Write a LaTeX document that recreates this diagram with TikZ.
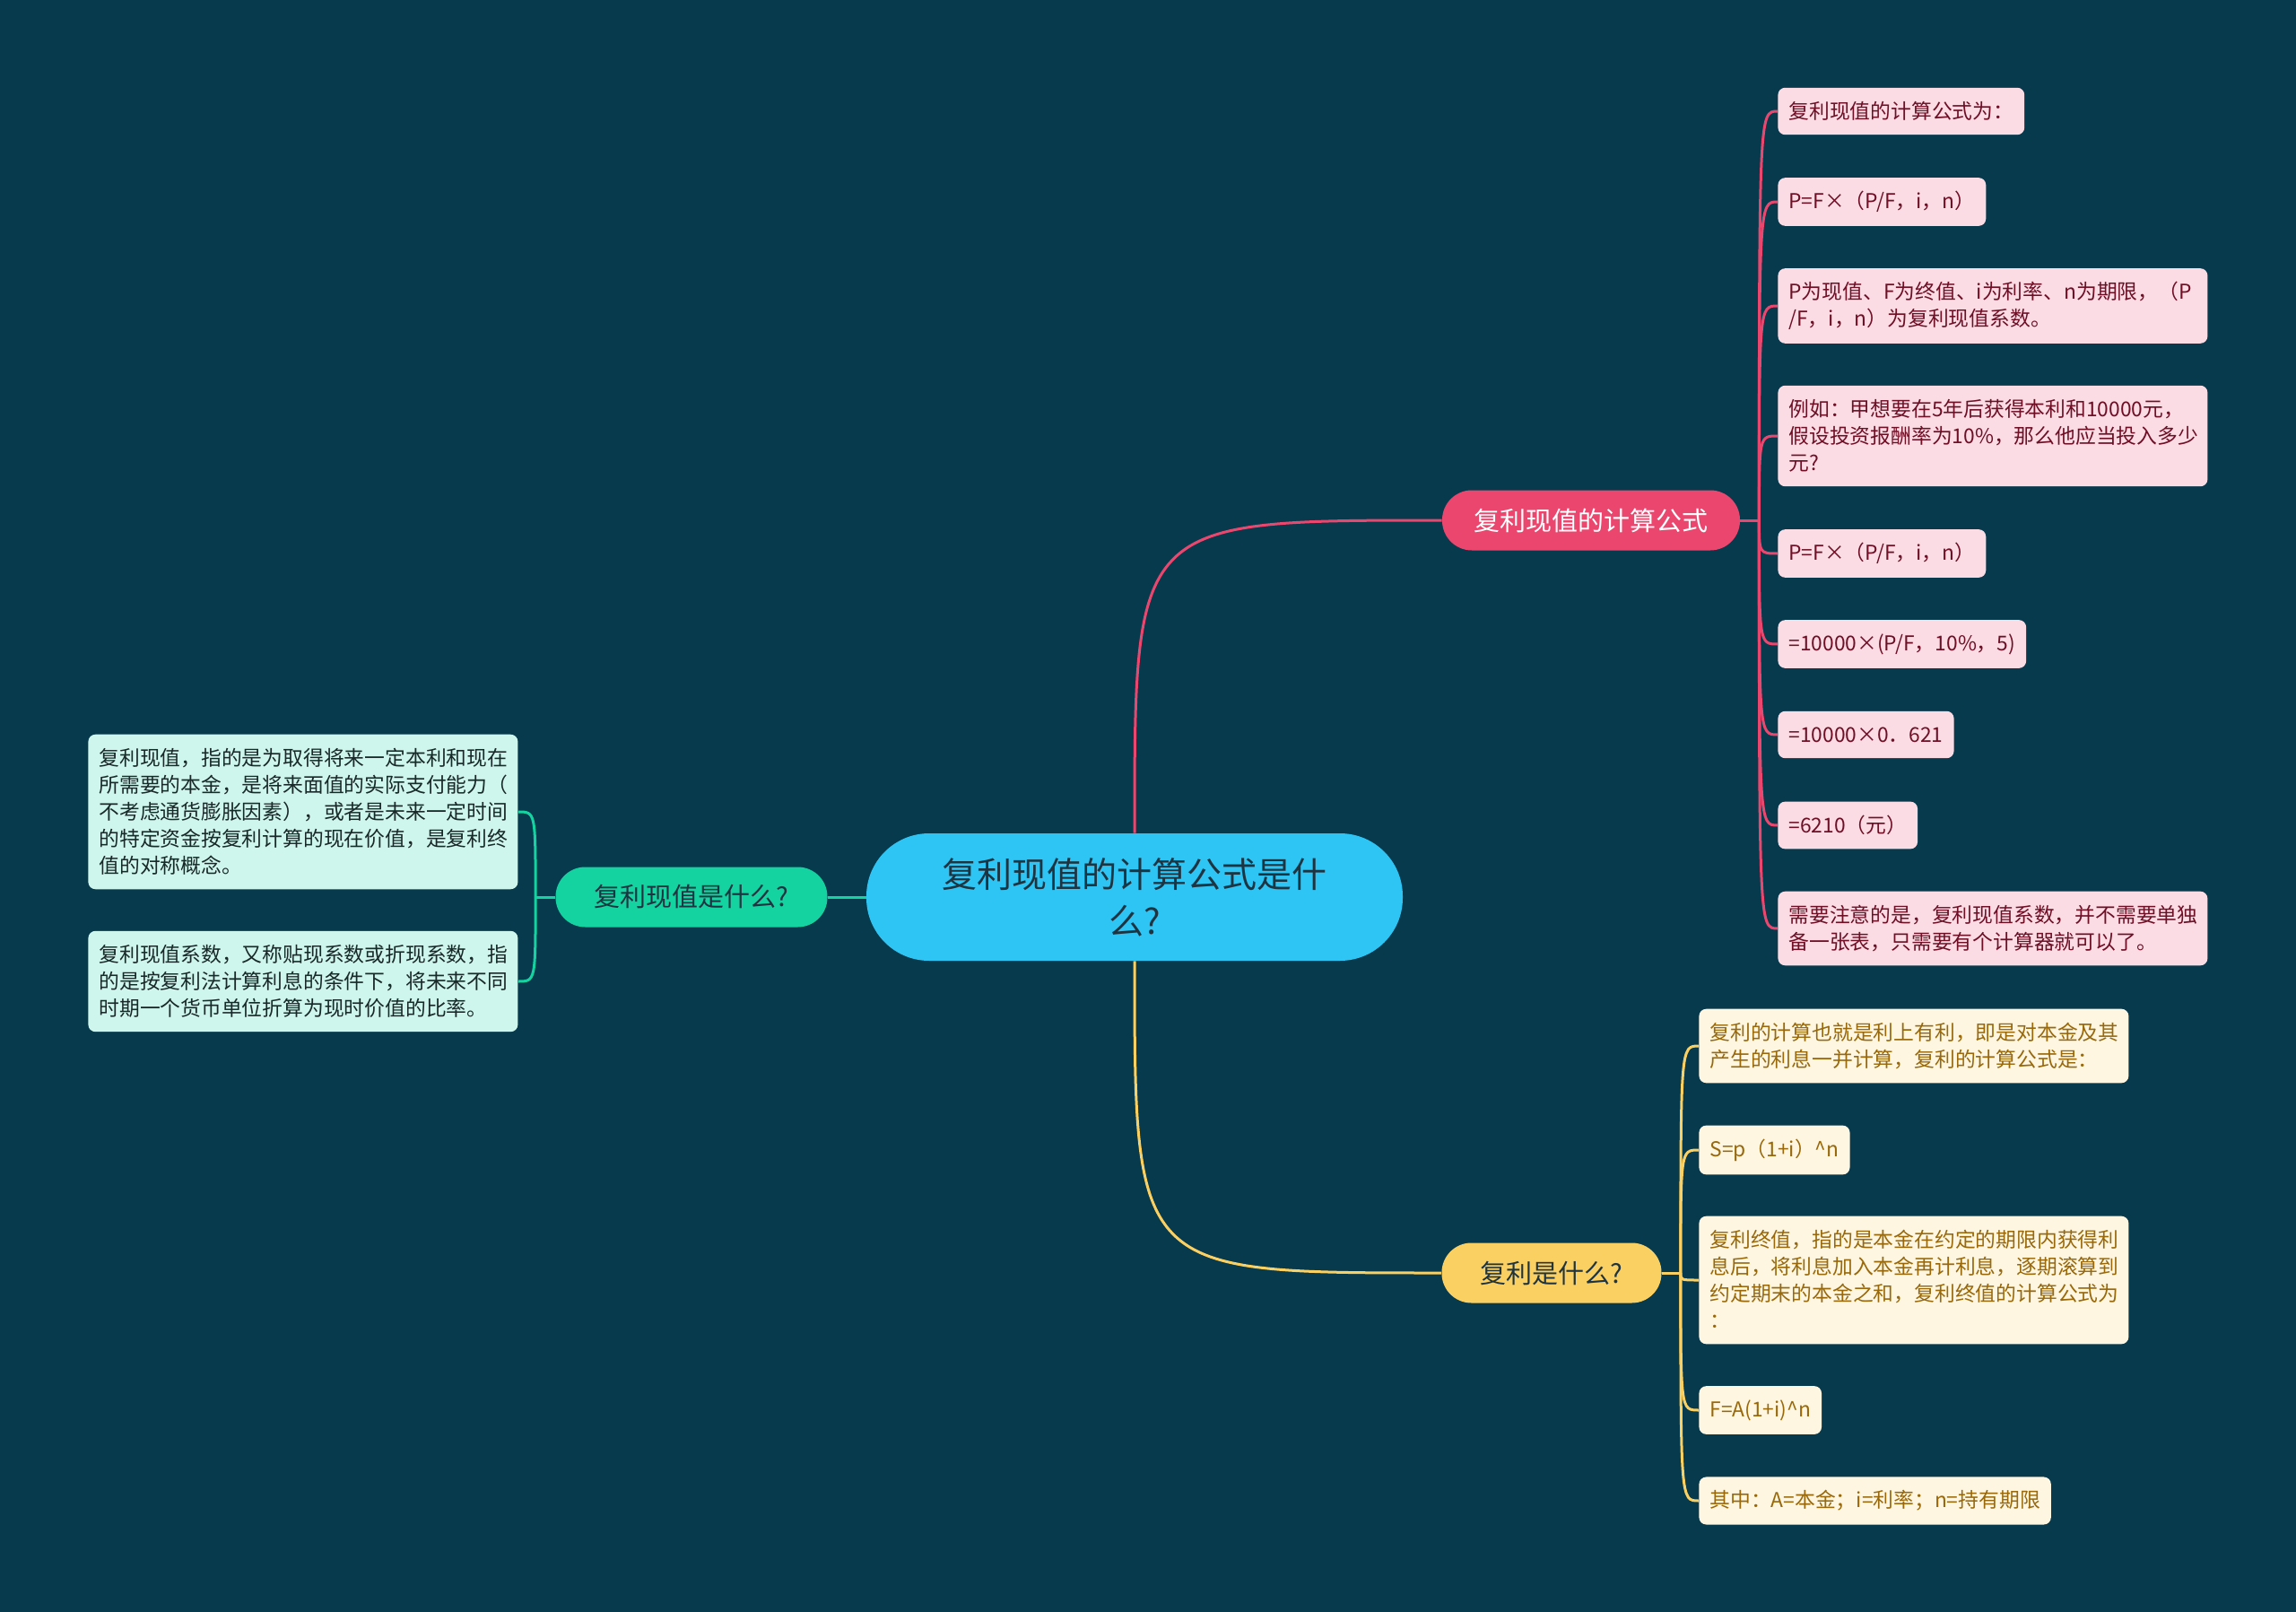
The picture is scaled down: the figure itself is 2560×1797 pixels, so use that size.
\documentclass[tikz,border=0pt]{standalone}
\usepackage{fontspec}
\setmainfont{Noto Sans CJK SC}
\usepackage{xcolor}
\usetikzlibrary{positioning,calc}
\definecolor{bgnavy}{RGB}{8,58,78}
\definecolor{hubblue}{RGB}{46,197,245}
\definecolor{hubtext}{RGB}{30,52,64}
\definecolor{pkmain}{RGB}{234,70,110}
\definecolor{pkleaf}{RGB}{252,220,228}
\definecolor{pktext}{RGB}{110,15,38}
\definecolor{ylmain}{RGB}{251,208,98}
\definecolor{ylleaf}{RGB}{254,246,224}
\definecolor{yltext}{RGB}{152,104,10}
\definecolor{grmain}{RGB}{20,211,160}
\definecolor{grleaf}{RGB}{206,246,236}
\definecolor{grtext}{RGB}{25,40,40}
\newcommand{\leafstrut}{\rule[-1.6pt]{0pt}{11.2pt}}
\tikzset{
  hub/.style={rounded corners=35pt, fill=hubblue, text=hubtext, minimum width=299pt,
              minimum height=71pt, align=center, font=\fontsize{19.5}{26}\selectfont},
  branch/.style={rounded corners=16.5pt, minimum height=33.5pt, inner sep=0pt,
                 font=\fontsize{14.5}{17}\selectfont},
  pkbranch/.style={branch, fill=pkmain, text=white, minimum width=166pt},
  grbranch/.style={branch, fill=grmain, text=hubtext, minimum width=151.5pt},
  ylbranch/.style={branch, fill=ylmain, text=hubtext, minimum width=122.5pt},
  leaf/.style={rounded corners=4pt, inner xsep=6pt, inner ysep=7.5pt, anchor=west,
               align=left, font=\fontsize{11.4}{15}\selectfont,
               execute at begin node=\leafstrut, execute at end node=\leafstrut},
  wide/.style={text width=227.5pt},
  pkbox/.style={leaf, fill=pkleaf, text=pktext},
  ylbox/.style={leaf, fill=ylleaf, text=yltext},
  grbox/.style={leaf, fill=grleaf, text=grtext},
  link/.style={line width=1.5pt}
}

\begin{document}
\begin{tikzpicture}[x=0.5pt, y=-0.5pt]
\path[use as bounding box, fill=bgnavy] (0,0) rectangle (2560,1797);

\node[hub] (ctr) at (1265,1000) {复利现值的计算公式是什\\么?};
\node[pkbranch] (pk) at (1774,580) {复利现值的计算公式};
\node[grbranch] (gr) at (771,1000) {复利现值是什么?};
\node[ylbranch] (yl) at (1730,1419) {复利是什么?};

\node[pkbox] (p1) at (1982,124) {复利现值的计算公式为：};
\node[pkbox] (p2) at (1982,225) {P=F×（P/F，i，n）};
\node[pkbox, wide] (p3) at (1982,341) {P为现值、F为终值、i为利率、n为期限，（P\\/F，i，n）为复利现值系数。};
\node[pkbox, wide] (p4) at (1982,486) {例如：甲想要在5年后获得本利和10000元，\\假设投资报酬率为10\%，那么他应当投入多少\\元?};
\node[pkbox] (p5) at (1982,617) {P=F×（P/F，i，n）};
\node[pkbox] (p6) at (1982,718) {=10000×(P/F，10\%，5)};
\node[pkbox] (p7) at (1982,819) {=10000×0．621};
\node[pkbox] (p8) at (1982,920) {=6210（元）};
\node[pkbox, wide] (p9) at (1982,1035) {需要注意的是，复利现值系数，并不需要单独\\备一张表，只需要有个计算器就可以了。};

\node[ylbox, wide] (y1) at (1894,1166) {复利的计算也就是利上有利，即是对本金及其\\产生的利息一并计算，复利的计算公式是：};
\node[ylbox] (y2) at (1894,1282) {S=p（1+i）\textasciicircum n};
\node[ylbox, wide] (y3) at (1894,1427) {复利终值，指的是本金在约定的期限内获得利\\息后，将利息加入本金再计利息，逐期滚算到\\约定期末的本金之和，复利终值的计算公式为\\：};
\node[ylbox] (y4) at (1894,1572) {F=A(1+i)\textasciicircum n};
\node[ylbox] (y5) at (1894,1673) {其中：A=本金；i=利率；n=持有期限};

\node[grbox, wide] (g1) at (98,905) {复利现值，指的是为取得将来一定本利和现在\\所需要的本金，是将来面值的实际支付能力（\\不考虑通货膨胀因素），或者是未来一定时间\\的特定资金按复利计算的现在价值，是复利终\\值的对称概念。};
\node[grbox, wide] (g2) at (98,1094) {复利现值系数，又称贴现系数或折现系数，指\\的是按复利法计算利息的条件下，将未来不同\\时期一个货币单位折算为现时价值的比率。};

\draw[link, pkmain] (ctr.north) .. controls (ctr.north |- pk.west) and (ctr.north |- pk.west) .. (pk.west);
\draw[link, ylmain] (ctr.south) .. controls (ctr.south |- yl.west) and (ctr.south |- yl.west) .. (yl.west);
\draw[link, grmain] (ctr.west) -- (gr.east);

\coordinate (pkj) at ($(pk.east)+(21,0)$);
\draw[link, pkmain] (pk.east) -- (pkj);
\foreach \n in {1,...,9}
  \draw[link, pkmain] (pkj) .. controls (pkj |- p\n.west) .. (p\n.west);

\coordinate (ylj) at ($(yl.east)+(21,0)$);
\draw[link, ylmain] (yl.east) -- (ylj);
\foreach \n in {1,...,5}
  \draw[link, ylmain] (ylj) .. controls (ylj |- y\n.west) .. (y\n.west);

\coordinate (grj) at ($(gr.west)+(-22,0)$);
\draw[link, grmain] (gr.west) -- (grj);
\foreach \n in {1,2}
  \draw[link, grmain] (grj) .. controls (grj |- g\n.east) .. (g\n.east);
\end{tikzpicture}
\end{document}
